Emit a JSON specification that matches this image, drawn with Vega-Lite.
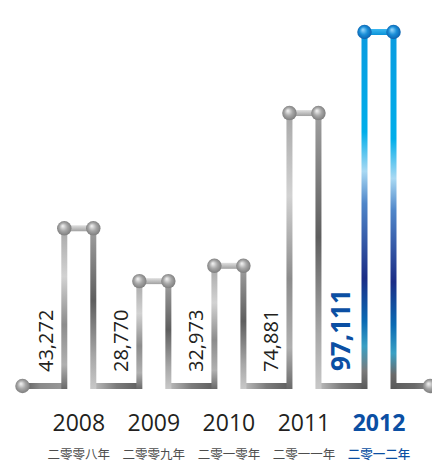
{
  "$schema": "https://vega.github.io/schema/vega-lite/v6.json",
  "width": 432,
  "height": 465,
  "autosize": {"type": "none"},
  "padding": 0,
  "config": {"view": {"stroke": null}, "font": "Open Sans"},
  "data": {
    "values": [
      {"year": 2008, "value": 43272, "cn": "二零零八年"},
      {"year": 2009, "value": 28770, "cn": "二零零九年"},
      {"year": 2010, "value": 32973, "cn": "二零一零年"},
      {"year": 2011, "value": 74881, "cn": "二零一一年"},
      {"year": 2012, "value": 97111, "cn": "二零一二年"}
    ]
  },
  "layer": [
    {
      "transform": [
        {"window": [{"op": "lead", "field": "year", "as": "next"}], "sort": [{"field": "year", "order": "ascending"}]},
        {"filter": "datum.next != null"}
      ],
      "mark": {"type": "rect", "xOffset": 12, "x2Offset": -12, "yOffset": -3, "y2Offset": 3,
        "fill": {"gradient": "linear", "x1": 0, "y1": 0, "x2": 1, "y2": 0, "stops": [{"offset": 0, "color": "#c4c4c4"}, {"offset": 0.5, "color": "#7c7c7c"}, {"offset": 1, "color": "#5c5c5c"}]}},
      "encoding": {
        "x": {"field": "year", "type": "quantitative", "scale": {"type": "linear", "domain": [2008, 2012], "range": [78.8, 379], "zero": false, "nice": false}, "axis": null},
        "x2": {"field": "next"},
        "y": {"datum": 0, "type": "quantitative", "scale": {"domain": [0, 97111], "range": [386, 32], "zero": false, "nice": false}, "axis": null},
        "y2": {"datum": 0}
      }
    },
    {
      "transform": [{"filter": "datum.year == 2008"}],
      "mark": {"type": "rect", "xOffset": -12, "yOffset": -3, "y2Offset": 3,
        "fill": {"gradient": "linear", "x1": 0, "y1": 0, "x2": 1, "y2": 0, "stops": [{"offset": 0, "color": "#5c5c5c"}, {"offset": 0.4, "color": "#8a8a8a"}, {"offset": 1, "color": "#9a9a9a"}]}},
      "encoding": {
        "x": {"field": "year", "type": "quantitative"},
        "x2": {"datum": 2007.25},
        "y": {"datum": 0, "type": "quantitative"},
        "y2": {"datum": 0}
      }
    },
    {
      "transform": [{"filter": "datum.year == 2012"}],
      "mark": {"type": "rect", "xOffset": 12, "yOffset": -3, "y2Offset": 3,
        "fill": {"gradient": "linear", "x1": 0, "y1": 0, "x2": 1, "y2": 0, "stops": [{"offset": 0, "color": "#5c5c5c"}, {"offset": 0.6, "color": "#6a6a6a"}, {"offset": 1, "color": "#8a8a8a"}]}},
      "encoding": {
        "x": {"field": "year", "type": "quantitative"},
        "x2": {"datum": 2012.68},
        "y": {"datum": 0, "type": "quantitative"},
        "y2": {"datum": 0}
      }
    },
    {
      "transform": [{"filter": "datum.year < 2012"}],
      "mark": {"type": "rect", "xOffset": -17.5, "x2Offset": -11.5, "y2Offset": 3,
        "fill": {"gradient": "linear", "x1": 0, "y1": 0, "x2": 0, "y2": 1, "stops": [{"offset": 0, "color": "#a8a8a8"}, {"offset": 0.3, "color": "#d2d2d2"}, {"offset": 0.6, "color": "#8c8c8c"}, {"offset": 0.85, "color": "#b0b0b0"}, {"offset": 1, "color": "#6a6a6a"}]}},
      "encoding": {
        "x": {"field": "year", "type": "quantitative"},
        "x2": {"field": "year"},
        "y": {"field": "value", "type": "quantitative"},
        "y2": {"datum": 0}
      }
    },
    {
      "transform": [{"filter": "datum.year < 2012"}],
      "mark": {"type": "rect", "xOffset": 11.5, "x2Offset": 17.5, "y2Offset": 3,
        "fill": {"gradient": "linear", "x1": 0, "y1": 0, "x2": 0, "y2": 1, "stops": [{"offset": 0, "color": "#a0a0a0"}, {"offset": 0.45, "color": "#5e5e5e"}, {"offset": 0.8, "color": "#a8a8a8"}, {"offset": 1, "color": "#c8c8c8"}]}},
      "encoding": {
        "x": {"field": "year", "type": "quantitative"},
        "x2": {"field": "year"},
        "y": {"field": "value", "type": "quantitative"},
        "y2": {"datum": 0}
      }
    },
    {
      "transform": [{"filter": "datum.year < 2012"}],
      "mark": {"type": "rect", "xOffset": -14.5, "x2Offset": 14.5, "yOffset": -3, "y2Offset": 3,
        "fill": {"gradient": "linear", "x1": 0, "y1": 0, "x2": 0, "y2": 1, "stops": [{"offset": 0, "color": "#e0e0e0"}, {"offset": 1, "color": "#a0a0a0"}]}},
      "encoding": {
        "x": {"field": "year", "type": "quantitative"},
        "x2": {"field": "year"},
        "y": {"field": "value", "type": "quantitative"},
        "y2": {"field": "value"}
      }
    },
    {
      "transform": [{"filter": "datum.year == 2012"}],
      "mark": {"type": "rect", "xOffset": -17.5, "x2Offset": -11.5, "y2Offset": 3,
        "fill": {"gradient": "linear", "x1": 0, "y1": 0, "x2": 0, "y2": 1, "stops": [{"offset": 0, "color": "#0a9be0"}, {"offset": 0.28, "color": "#00aeea"}, {"offset": 0.39, "color": "#a9d9f3"}, {"offset": 0.48, "color": "#4f86c9"}, {"offset": 0.69, "color": "#1b2d86"}, {"offset": 0.81, "color": "#0a6ab3"}, {"offset": 0.88, "color": "#39a0c4"}, {"offset": 0.95, "color": "#7a7a7a"}, {"offset": 1, "color": "#5a5a5a"}]}},
      "encoding": {
        "x": {"field": "year", "type": "quantitative"},
        "x2": {"field": "year"},
        "y": {"field": "value", "type": "quantitative"},
        "y2": {"datum": 0}
      }
    },
    {
      "transform": [{"filter": "datum.year == 2012"}],
      "mark": {"type": "rect", "xOffset": 11.5, "x2Offset": 17.5, "y2Offset": 3,
        "fill": {"gradient": "linear", "x1": 0, "y1": 0, "x2": 0, "y2": 1, "stops": [{"offset": 0, "color": "#0a9be0"}, {"offset": 0.3, "color": "#00aeea"}, {"offset": 0.41, "color": "#a9d9f3"}, {"offset": 0.5, "color": "#4f86c9"}, {"offset": 0.7, "color": "#1b2d86"}, {"offset": 0.82, "color": "#0a6ab3"}, {"offset": 0.9, "color": "#39a0c4"}, {"offset": 0.96, "color": "#6a6a6a"}, {"offset": 1, "color": "#5a5a5a"}]}},
      "encoding": {
        "x": {"field": "year", "type": "quantitative"},
        "x2": {"field": "year"},
        "y": {"field": "value", "type": "quantitative"},
        "y2": {"datum": 0}
      }
    },
    {
      "transform": [{"filter": "datum.year == 2012"}],
      "mark": {"type": "rect", "xOffset": -14.5, "x2Offset": 14.5, "yOffset": -3, "y2Offset": 3,
        "fill": {"gradient": "linear", "x1": 0, "y1": 0, "x2": 0, "y2": 1, "stops": [{"offset": 0, "color": "#3cb8f0"}, {"offset": 1, "color": "#0a92d8"}]}},
      "encoding": {
        "x": {"field": "year", "type": "quantitative"},
        "x2": {"field": "year"},
        "y": {"field": "value", "type": "quantitative"},
        "y2": {"field": "value"}
      }
    },
    {
      "transform": [{"filter": "datum.year < 2012"}],
      "mark": {"type": "point", "shape": "circle", "filled": true, "size": 210, "opacity": 1, "strokeWidth": 0, "xOffset": -14.5,
        "fill": {"gradient": "radial", "x1": 0.38, "y1": 0.33, "r1": 0, "x2": 0.5, "y2": 0.5, "r2": 0.55, "stops": [{"offset": 0, "color": "#f8f8f8"}, {"offset": 0.5, "color": "#a8a8a8"}, {"offset": 1, "color": "#777777"}]}},
      "encoding": {
        "x": {"field": "year", "type": "quantitative"},
        "y": {"field": "value", "type": "quantitative"}
      }
    },
    {
      "transform": [{"filter": "datum.year < 2012"}],
      "mark": {"type": "point", "shape": "circle", "filled": true, "size": 210, "opacity": 1, "strokeWidth": 0, "xOffset": 14.5,
        "fill": {"gradient": "radial", "x1": 0.38, "y1": 0.33, "r1": 0, "x2": 0.5, "y2": 0.5, "r2": 0.55, "stops": [{"offset": 0, "color": "#f8f8f8"}, {"offset": 0.5, "color": "#a8a8a8"}, {"offset": 1, "color": "#777777"}]}},
      "encoding": {
        "x": {"field": "year", "type": "quantitative"},
        "y": {"field": "value", "type": "quantitative"}
      }
    },
    {
      "transform": [{"filter": "datum.year == 2012"}],
      "mark": {"type": "point", "shape": "circle", "filled": true, "size": 210, "opacity": 1, "strokeWidth": 0, "xOffset": -14.5,
        "fill": {"gradient": "radial", "x1": 0.38, "y1": 0.33, "r1": 0, "x2": 0.5, "y2": 0.5, "r2": 0.55, "stops": [{"offset": 0, "color": "#9fdcff"}, {"offset": 0.5, "color": "#1a8fd8"}, {"offset": 1, "color": "#0a5aa8"}]}},
      "encoding": {
        "x": {"field": "year", "type": "quantitative"},
        "y": {"field": "value", "type": "quantitative"}
      }
    },
    {
      "transform": [{"filter": "datum.year == 2012"}],
      "mark": {"type": "point", "shape": "circle", "filled": true, "size": 210, "opacity": 1, "strokeWidth": 0, "xOffset": 14.5,
        "fill": {"gradient": "radial", "x1": 0.38, "y1": 0.33, "r1": 0, "x2": 0.5, "y2": 0.5, "r2": 0.55, "stops": [{"offset": 0, "color": "#9fdcff"}, {"offset": 0.5, "color": "#1a8fd8"}, {"offset": 1, "color": "#0a5aa8"}]}},
      "encoding": {
        "x": {"field": "year", "type": "quantitative"},
        "y": {"field": "value", "type": "quantitative"}
      }
    },
    {
      "transform": [{"filter": "datum.year == 2008"}],
      "mark": {"type": "point", "shape": "circle", "filled": true, "size": 210, "opacity": 1, "strokeWidth": 0,
        "fill": {"gradient": "radial", "x1": 0.38, "y1": 0.33, "r1": 0, "x2": 0.5, "y2": 0.5, "r2": 0.55, "stops": [{"offset": 0, "color": "#f8f8f8"}, {"offset": 0.5, "color": "#a8a8a8"}, {"offset": 1, "color": "#777777"}]}},
      "encoding": {
        "x": {"datum": 2007.25, "type": "quantitative"},
        "y": {"datum": 0, "type": "quantitative"}
      }
    },
    {
      "transform": [{"filter": "datum.year == 2012"}],
      "mark": {"type": "point", "shape": "circle", "filled": true, "size": 210, "opacity": 1, "strokeWidth": 0,
        "fill": {"gradient": "radial", "x1": 0.38, "y1": 0.33, "r1": 0, "x2": 0.5, "y2": 0.5, "r2": 0.55, "stops": [{"offset": 0, "color": "#f8f8f8"}, {"offset": 0.5, "color": "#a8a8a8"}, {"offset": 1, "color": "#777777"}]}},
      "encoding": {
        "x": {"datum": 2012.68, "type": "quantitative"},
        "y": {"datum": 0, "type": "quantitative"}
      }
    },
    {
      "transform": [{"filter": "datum.year < 2012"}],
      "mark": {"type": "text", "angle": 270, "align": "left", "baseline": "middle", "fontSize": 20, "fill": "#231f20", "xOffset": -31.5, "yOffset": -14},
      "encoding": {
        "x": {"field": "year", "type": "quantitative"},
        "y": {"datum": 0, "type": "quantitative"},
        "text": {"field": "value", "type": "quantitative", "format": ","}
      }
    },
    {
      "transform": [{"filter": "datum.year == 2012"}],
      "mark": {"type": "text", "angle": 270, "align": "left", "baseline": "middle", "fontSize": 26, "fontWeight": "bold", "fill": "#0b4fa3", "xOffset": -37.5, "yOffset": -15},
      "encoding": {
        "x": {"field": "year", "type": "quantitative"},
        "y": {"datum": 0, "type": "quantitative"},
        "text": {"field": "value", "type": "quantitative", "format": ","}
      }
    },
    {
      "transform": [{"filter": "datum.year < 2012"}],
      "mark": {"type": "text", "align": "center", "baseline": "alphabetic", "fontSize": 23, "fill": "#231f20", "yOffset": 45},
      "encoding": {
        "x": {"field": "year", "type": "quantitative"},
        "y": {"datum": 0, "type": "quantitative"},
        "text": {"field": "year", "type": "ordinal"}
      }
    },
    {
      "transform": [{"filter": "datum.year == 2012"}],
      "mark": {"type": "text", "align": "center", "baseline": "alphabetic", "fontSize": 23, "fontWeight": "bold", "fill": "#0b4fa3", "yOffset": 45},
      "encoding": {
        "x": {"field": "year", "type": "quantitative"},
        "y": {"datum": 0, "type": "quantitative"},
        "text": {"field": "year", "type": "ordinal"}
      }
    },
    {
      "transform": [{"filter": "datum.year < 2012"}],
      "mark": {"type": "text", "align": "center", "baseline": "alphabetic", "fontSize": 12.5, "font": "Noto Sans CJK SC", "fill": "#4d4d4d", "yOffset": 73},
      "encoding": {
        "x": {"field": "year", "type": "quantitative"},
        "y": {"datum": 0, "type": "quantitative"},
        "text": {"field": "cn", "type": "nominal"}
      }
    },
    {
      "transform": [{"filter": "datum.year == 2012"}],
      "mark": {"type": "text", "align": "center", "baseline": "alphabetic", "fontSize": 12.5, "font": "Noto Sans CJK SC", "fontWeight": 500, "fill": "#0b4fa3", "yOffset": 73},
      "encoding": {
        "x": {"field": "year", "type": "quantitative"},
        "y": {"datum": 0, "type": "quantitative"},
        "text": {"field": "cn", "type": "nominal"}
      }
    }
  ]
}
